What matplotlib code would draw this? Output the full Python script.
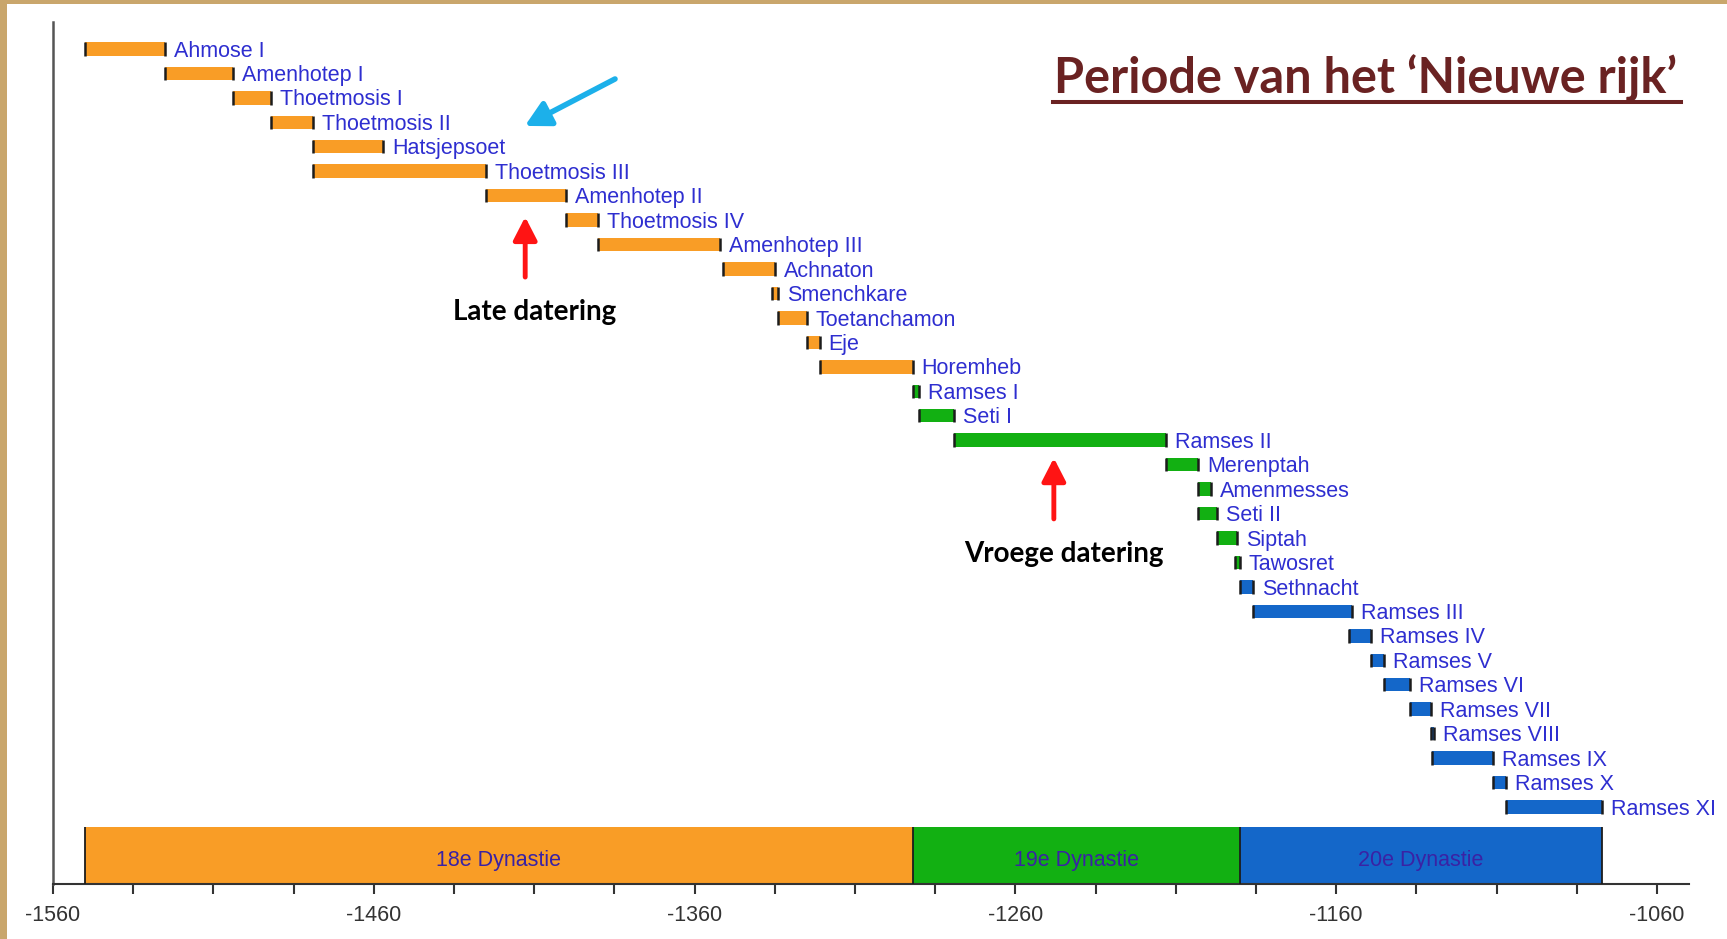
import matplotlib
matplotlib.use("Agg")
import matplotlib.pyplot as plt
from matplotlib.patches import Rectangle
from matplotlib.lines import Line2D
from matplotlib import font_manager

# ---------------- data ----------------
rulers = ["Ahmose I", "Amenhotep I", "Thoetmosis I", "Thoetmosis II", "Hatsjepsoet",
          "Thoetmosis III", "Amenhotep II", "Thoetmosis IV", "Amenhotep III", "Achnaton",
          "Smenchkare", "Toetanchamon", "Eje", "Horemheb", "Ramses I", "Seti I",
          "Ramses II", "Merenptah", "Amenmesses", "Seti II", "Siptah", "Tawosret",
          "Sethnacht", "Ramses III", "Ramses IV", "Ramses V", "Ramses VI", "Ramses VII",
          "Ramses VIII", "Ramses IX", "Ramses X", "Ramses XI"]
starts = [-1550, -1525, -1504, -1492, -1479, -1479, -1425, -1400, -1390, -1351,
          -1336, -1334, -1325, -1321, -1292, -1290, -1279, -1213, -1203, -1203,
          -1197, -1191.5, -1190, -1186, -1156, -1149, -1145, -1137, -1130.3, -1130,
          -1111, -1107]
ends = [-1525, -1504, -1492, -1479, -1457, -1425, -1400, -1390, -1352, -1335,
        -1334, -1325, -1321, -1292, -1290, -1279, -1213, -1203, -1199, -1197,
        -1191, -1190, -1186, -1155, -1149, -1145, -1137, -1130.5, -1129.4, -1111,
        -1107, -1077]
ruler_dynasty = [18] * 14 + [19] * 8 + [20] * 10

dynasty_names = ["18e Dynastie", "19e Dynastie", "20e Dynastie"]
dynasty_ids = [18, 19, 20]
dynasty_start = [-1550, -1292, -1190]
dynasty_end = [-1292, -1190, -1077]

tick_major = list(range(-1560, -1059, 100))
tick_labels = [str(t) for t in tick_major]

title = "Periode van het \u2018Nieuwe rijk\u2019"
late_label = "Late datering"
early_label = "Vroege datering"

# ---------------- style ----------------
colors = {18: "#F99D26", 19: "#12B012", 20: "#1467C9"}
label_color = "#2E2ED0"
dyn_label_color = "#3A22A4"

names = {f.name for f in font_manager.fontManager.ttflist}
label_font = "Liberation Sans" if "Liberation Sans" in names else "DejaVu Sans"
bold_font = "Lato" if "Lato" in names else "DejaVu Sans"

W, H = 1727, 939
fig = plt.figure(figsize=(W / 100, H / 100), dpi=100)
fig.patch.set_facecolor("#C9A66C")
bg = Rectangle((7 / W, 0), 1, 1 - 4 / H, transform=fig.transFigure,
               facecolor="white", edgecolor="none", zorder=-10)
fig.patches.append(bg)

ax = fig.add_axes([53 / W, 1 - 884 / H, (1689 - 53) / W, (884 - 22) / H])
ax.set_zorder(5)
ax.set_facecolor("none")
ax.set_xlim(-1560, -1050)
ax.set_ylim(34.15, -1.10)

bar_h = 0.55
for i, (name, s, e, d) in enumerate(zip(rulers, starts, ends, ruler_dynasty)):
    ax.barh(i, e - s, left=s, height=bar_h, color=colors[d], edgecolor="none", zorder=2)
    ax.vlines([s, e], i - bar_h / 2, i + bar_h / 2, color="#1c1c1c", lw=1.8, zorder=3)
    ax.annotate(name, (e, i), xytext=(6.5, -5.5), textcoords="offset points",
                va="baseline", ha="left", fontsize=15.5, color=label_color,
                family=label_font, zorder=4)

dyn_top, dyn_bot = 31.82, 34.15
for nm, did, s, e in zip(dynasty_names, dynasty_ids, dynasty_start, dynasty_end):
    ax.barh((dyn_top + dyn_bot) / 2, e - s, left=s, height=dyn_bot - dyn_top,
            color=colors[did], edgecolor="none", zorder=2)
    ax.text((s + e) / 2, 33.17, nm, ha="center", va="center", fontsize=15.5,
            color=dyn_label_color, family=label_font, zorder=4)
ax.vlines(dynasty_start + [dynasty_end[-1]], dyn_top, dyn_bot, color="#1c1c1c", lw=1.3, zorder=3)

# axes
for sp in ["top", "right"]:
    ax.spines[sp].set_visible(False)
ax.spines["left"].set_color("#555555")
ax.spines["left"].set_linewidth(1.8)
ax.spines["bottom"].set_color("#333333")
ax.spines["bottom"].set_linewidth(1.5)
ax.set_yticks([])
ax.set_xticks(tick_major)
ax.set_xticklabels(tick_labels)
ax.set_xticks(list(range(-1560, -1050, 25)), minor=True)
ax.tick_params(axis="x", which="both", direction="out", length=7, width=1.5,
               color="#333333")
ax.tick_params(axis="x", which="major", pad=8, labelsize=15.5, labelcolor="#333333")
for lbl in ax.get_xticklabels():
    lbl.set_family(label_font)

# annotations
red = "#FF1414"
ax.annotate("", xy=(-1412.8, 6.87), xytext=(-1412.8, 9.33),
            arrowprops=dict(arrowstyle="-|>,head_width=0.36,head_length=0.7",
                            mutation_scale=20, lw=3.5, color=red, shrinkA=0, shrinkB=0),
            zorder=5)
ax.annotate("", xy=(-1248, 16.73), xytext=(-1248, 19.22),
            arrowprops=dict(arrowstyle="-|>,head_width=0.36,head_length=0.7",
                            mutation_scale=20, lw=3.5, color=red, shrinkA=0, shrinkB=0),
            zorder=5)
ax.annotate("", xy=(-1412.9, 3.15), xytext=(-1384.8, 1.23),
            arrowprops=dict(arrowstyle="-|>,head_width=0.4,head_length=0.75",
                            mutation_scale=20, lw=4, color="#1CB0EA", shrinkA=0, shrinkB=0),
            zorder=5)

ax.text(-1410, 11.08, late_label, ha="center", va="baseline", fontsize=20,
        fontweight="bold", color="black", family=bold_font, zorder=5)
ax.text(-1244.8, 20.98, early_label, ha="center", va="baseline", fontsize=20,
        fontweight="bold", color="black", family=bold_font, zorder=5)

# title with underline
title_color = "#6A2222"
fig.text(1054 / W, 1 - 93 / H, title, ha="left", va="baseline", fontsize=35,
         fontweight="bold", color=title_color, family=bold_font, zorder=6)
fig.add_artist(Line2D([1053 / W, 1681 / W], [1 - 101.7 / H, 1 - 101.7 / H],
                      transform=fig.transFigure, color=title_color, lw=2.9, zorder=6))

fig.savefig("out.png", dpi=100, facecolor=fig.get_facecolor())
